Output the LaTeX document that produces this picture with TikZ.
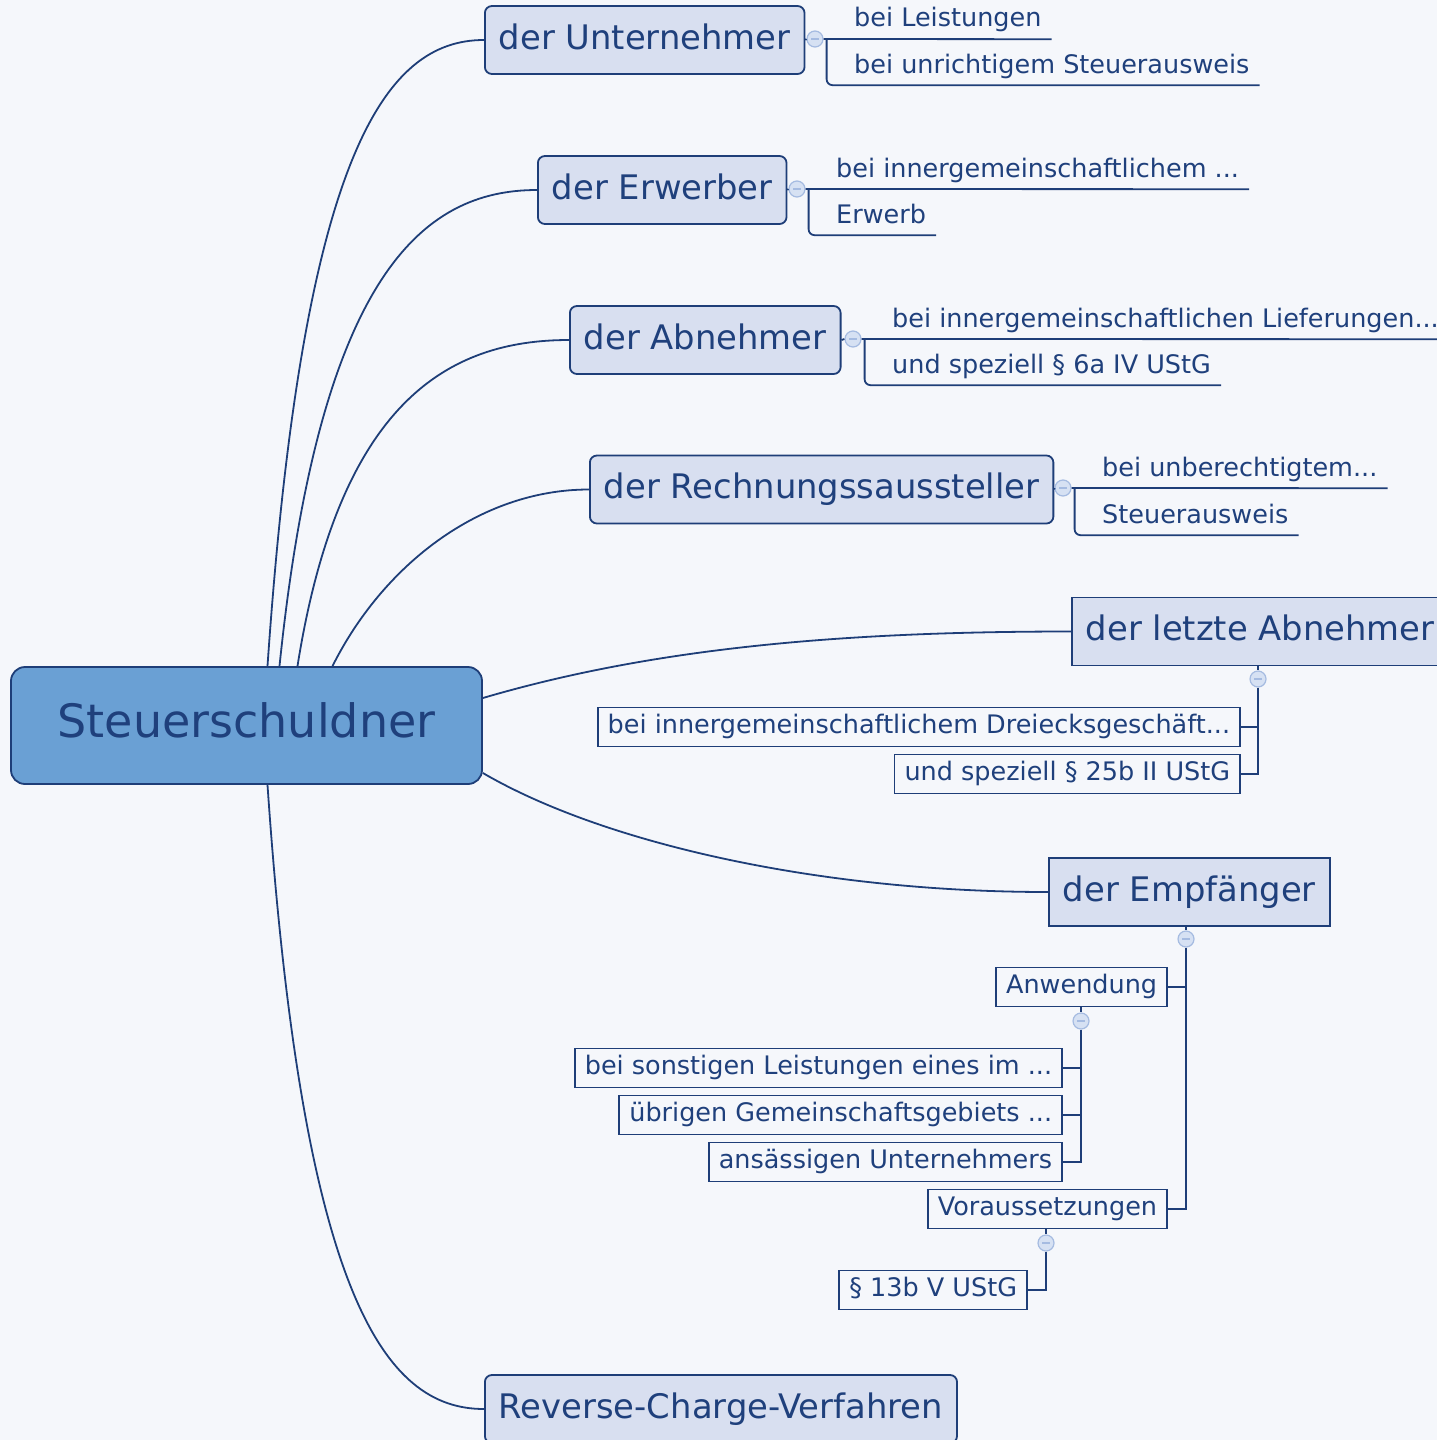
\documentclass[tikz,border=0pt]{standalone}
\usepackage{xcolor}
\usepackage{fontspec}
\setmainfont{DejaVu Sans}
\usepackage{tikz}

\definecolor{mapbg}{RGB}{245,247,251}
\definecolor{mapline}{RGB}{30,62,120}
\definecolor{maptext}{RGB}{31,64,124}
\definecolor{mapfill}{RGB}{216,223,240}
\definecolor{rootfill}{RGB}{106,160,212}
\definecolor{tgfill}{RGB}{214,225,243}
\definecolor{tgline}{RGB}{165,187,225}

\begin{document}
\begin{tikzpicture}[x=1pt,y=-1pt,
    every node/.style={text=maptext},
    link/.style={draw=mapline, line width=1.8pt},
    root/.style={draw=mapline, line width=1.8pt, fill=rootfill, rounded corners=14pt,
      minimum width=471pt, minimum height=117pt, text height=34pt, text depth=10pt,
      font=\fontsize{46}{55}\selectfont},
    topic/.style={draw=mapline, line width=1.8pt, fill=mapfill, rounded corners=7pt,
      anchor=west, minimum height=68pt, inner xsep=14pt, text height=25pt, text depth=7pt,
      font=\fontsize{33.8}{40}\selectfont},
    topicsq/.style={topic, rounded corners=0pt},
    item/.style={anchor=base west, inner xsep=10pt, inner ysep=6pt, text depth=6pt,
      font=\fontsize{25.5}{30}\selectfont},
    itembox/.style={draw=mapline, line width=1.8pt, fill=mapbg, anchor=east,
      minimum height=39pt, inner xsep=10pt, text height=19pt, text depth=6pt,
      font=\fontsize{25.5}{30}\selectfont},
    toggle/.style={circle, draw=tgline, line width=1.2pt, fill=tgfill, minimum size=16pt,
      inner sep=0pt, path picture={\draw[tgline, line width=1.5pt]
        ([xshift=-4pt]path picture bounding box.center) --
        ([xshift=4pt]path picture bounding box.center);}}
  ]
  \useasboundingbox (0,0) rectangle (1437,1440);
  \fill[mapbg] (0,0) rectangle (1437,1440);

  \node[root] (root) at (246.5,725.5) {Steuerschuldner};

  \node[topic] (n1) at (484,40) {der Unternehmer};
  \node[topic] (n2) at (537,190) {der Erwerber};
  \node[topic] (n3) at (569,340) {der Abnehmer};
  \node[topic] (n4) at (589,489.5) {der Rechnungssaussteller};
  \node[topicsq] (n5) at (1071,631.5) {der letzte Abnehmer};
  \node[topicsq] (n6) at (1048,892) {der Empfänger};
  \node[topic] (n7) at (484,1409) {Reverse-Charge-Verfahren};

  \draw[link] ([xshift=21pt]root.north) .. controls +(35,-510) and +(-100,0) .. (n1.west);
  \draw[link] ([xshift=33pt]root.north) .. controls +(40,-390) and +(-115,0) .. (n2.west);
  \draw[link] ([xshift=51pt]root.north) .. controls +(42,-265) and +(-120,0) .. (n3.west);
  \draw[link] ([xshift=86pt]root.north) .. controls +(50,-100) and +(-110,0) .. (n4.west);
  \draw[link] ([yshift=27.5pt]root.east) .. controls +(170,-50) and +(-230,0) .. (n5.west);
  \draw[link] ([yshift=-47.5pt]root.east) .. controls +(120,70) and +(-230,0) .. (n6.west);
  \draw[link] ([xshift=21pt]root.south) .. controls +(35,510) and +(-100,0) .. (n7.west);

  % underlined sub topics
  \node[item] (u11) at (844,27) {bei Leistungen};
  \node[item] (u12) at (844,73) {bei unrichtigem Steuerausweis};
  \node[item] (u21) at (826,177) {bei innergemeinschaftlichem ...};
  \node[item] (u22) at (826,223) {Erwerb};
  \node[item] (u31) at (882,327) {bei innergemeinschaftlichen Lieferungen...};
  \node[item] (u32) at (882,373) {und speziell § 6a IV UStG};
  \node[item] (u41) at (1092,476) {bei unberechtigtem...};
  \node[item] (u42) at (1092,523) {Steuerausweis};

  \node[toggle] (t1) at (815,39) {};
  \node[toggle] (t2) at (797,189) {};
  \node[toggle] (t3) at (853,339) {};
  \node[toggle] (t4) at (1063,488) {};

  \draw[link] (n1.east) -- (t1.west);
  \draw[link] (t1.east) -- (u11.south east);
  \draw[link, rounded corners=6pt] ([xshift=3pt]t1.east) |- (u12.south east);
  \draw[link] (n2.east) -- (t2.west);
  \draw[link] (t2.east) -- (u21.south east);
  \draw[link, rounded corners=6pt] ([xshift=3pt]t2.east) |- (u22.south east);
  \draw[link] (n3.east) -- (t3.west);
  \draw[link] (t3.east) -- (u31.south east);
  \draw[link, rounded corners=6pt] ([xshift=3pt]t3.east) |- (u32.south east);
  \draw[link] (n4.east) -- (t4.west);
  \draw[link] (t4.east) -- (u41.south east);
  \draw[link, rounded corners=6pt] ([xshift=3pt]t4.east) |- (u42.south east);

  % boxed sub topics
  \node[itembox] (b51) at (1241,727) {bei innergemeinschaftlichem Dreiecksgeschäft...};
  \node[itembox] (b52) at (1241,774) {und speziell § 25b II UStG};
  \node[itembox] (b61) at (1168,987) {Anwendung};
  \node[itembox] (b62) at (1168,1209) {Voraussetzungen};
  \node[itembox] (b71) at (1063,1068) {bei sonstigen Leistungen eines im ...};
  \node[itembox] (b72) at (1063,1115) {übrigen Gemeinschaftsgebiets ...};
  \node[itembox] (b73) at (1063,1162) {ansässigen Unternehmers};
  \node[itembox] (b81) at (1028,1290) {§ 13b V UStG};

  \node[toggle] (t5) at (1258,679) {};
  \node[toggle] (t6) at (1186,939) {};
  \node[toggle] (t7) at (1081,1021) {};
  \node[toggle] (t8) at (1046,1243) {};

  \draw[link] (t5.north |- n5.south) -- (t5.north);
  \draw[link] (t5.south) |- (b52.east);
  \draw[link] (b51.east) -- (b51.east -| t5.south);
  \draw[link] (t6.north |- n6.south) -- (t6.north);
  \draw[link] (t6.south) |- (b62.east);
  \draw[link] (b61.east) -- (b61.east -| t6.south);
  \draw[link] (t7.north |- b61.south) -- (t7.north);
  \draw[link] (t7.south) |- (b73.east);
  \draw[link] (b71.east) -- (b71.east -| t7.south);
  \draw[link] (b72.east) -- (b72.east -| t7.south);
  \draw[link] (t8.north |- b62.south) -- (t8.north);
  \draw[link] (t8.south) |- (b81.east);
\end{tikzpicture}
\end{document}
